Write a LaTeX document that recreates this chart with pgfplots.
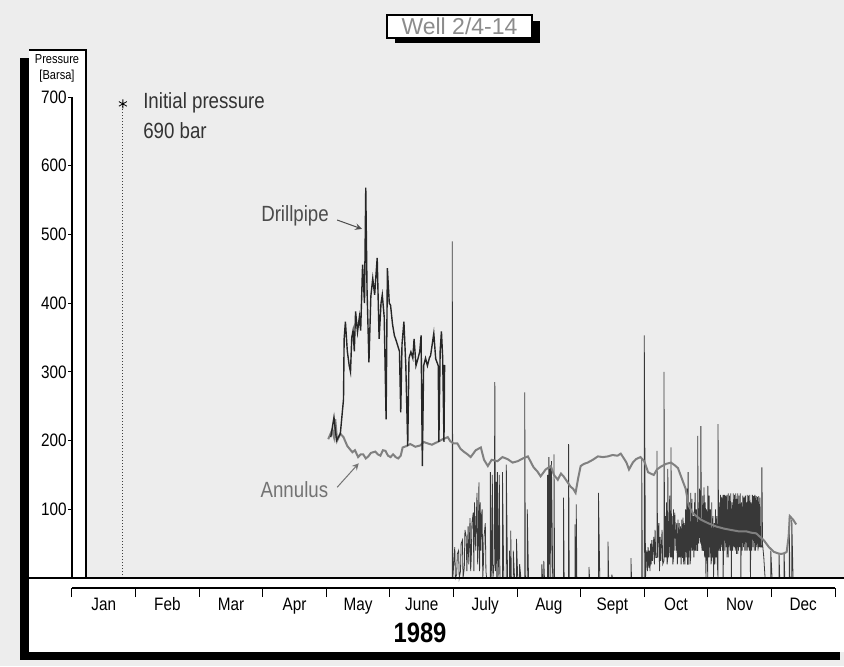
\documentclass[border=0pt]{standalone}
\usepackage{pgfplots}
\pgfplotsset{compat=1.18}
\usepackage{fontspec}
\setmainfont{Liberation Sans}[FakeStretch=0.85]
\newfontfamily\titlefont{Liberation Sans}
\begin{document}
\begin{tikzpicture}
% page background (scan tone) and frame panels
\fill[black!7] (-36pt,-44pt) rectangle (386pt,289pt);
\fill[black] (-26pt,-41pt) rectangle (-21.5pt,260pt);
\fill[black] (-26pt,-41pt) rectangle (384pt,-37pt);
\fill[white] (-21.5pt,-37pt) rectangle (386pt,0pt);
\fill[white] (-21.5pt,0pt) rectangle (7pt,264pt);
\draw[line width=0.6pt] (-21.5pt,264pt) -- (7pt,264pt) -- (7pt,0pt);
% title box with shadow
\fill[black] (161.5pt,267.5pt) rectangle (234pt,278.5pt);
\filldraw[fill=white, draw=black, line width=0.6pt] (157.5pt,270pt) rectangle (230pt,281.5pt);
\node[text=black!45, font=\titlefont\fontsize{11.5}{13}\selectfont] at (193.75pt,275.75pt) {Well 2/4-14};
% y label
\node[font=\fontsize{6.5}{8}\selectfont, align=center] at (-7.5pt,255pt) {Pressure\\{[Barsa]}};

\begin{axis}[
  at={(0pt,0pt)}, anchor=south west, scale only axis,
  width=381.5pt, height=240.5pt,
  xmin=0, xmax=12, ymin=0, ymax=700,
  axis x line=none, axis y line*=left,
  y axis line style={-, line width=0.7pt},
  ytick={100,200,...,700},
  tick align=outside, major tick length=2pt,
  tick style={black, line width=0.5pt},
  /pgf/number format/assume math mode=true,
  yticklabel style={font=\fontsize{9}{10}\selectfont, inner sep=0.5pt},
  clip=false,
]
% initial pressure
\addplot[black!75, line width=0.5pt, densely dotted] coordinates {(0.80,0) (0.80,690)};
\addplot[only marks, mark=asterisk, mark size=2.3pt, black] coordinates {(0.80,690)};
% drillpipe July-December
\addplot[black!78, line width=0.4pt] coordinates {
(5.97,0) (5.98,0) (5.98,490) (5.99,0)
(6.01,30) (6.02,45) (6.03,0) (6.05,5) (6.06,35) (6.08,40) (6.09,0) (6.11,10) (6.12,50) (6.14,55)
(6.15,0) (6.17,15) (6.18,70) (6.20,60) (6.21,10) (6.23,75) (6.24,20) (6.26,87) (6.27,10)
(6.28,30) (6.29,80) (6.31,95) (6.32,10) (6.33,110) (6.35,40) (6.36,90) (6.37,124) (6.38,20)
(6.39,50) (6.40,139) (6.41,10) (6.42,110) (6.43,40) (6.44,90) (6.45,100) (6.46,0) (6.47,20)
(6.48,60) (6.50,80) (6.51,10) (6.52,0)
(6.58,0) (6.58,154) (6.59,0) (6.60,20) (6.61,150) (6.62,0) (6.64,20) (6.65,285) (6.66,10)
(6.67,140) (6.68,0) (6.69,154) (6.70,0) (6.71,30) (6.72,150) (6.73,0) (6.74,0) (6.77,0)
(6.77,154) (6.79,0) (6.83,0) (6.83,165) (6.85,0) (6.88,0) (6.88,40) (6.89,0) (6.90,0)
(6.90,69) (6.91,0) (6.94,0) (6.94,40) (6.96,0) (6.99,0) (6.99,57) (7.01,0) (7.04,0) (7.04,20)
(7.06,0) (7.12,0) (7.12,270) (7.13,0) (7.16,0) (7.16,100) (7.18,0)
(7.39,0) (7.39,20) (7.40,0) (7.42,0) (7.42,25) (7.43,0) (7.48,0) (7.48,150) (7.49,0)
(7.50,0) (7.50,176) (7.51,20) (7.52,160) (7.53,0) (7.54,170) (7.56,0) (7.58,0) (7.58,180)
(7.59,0) (7.73,0) (7.73,117) (7.74,0) (7.81,0) (7.81,195) (7.82,0) (7.91,0) (7.91,78)
(7.92,0) (7.93,0) (7.93,107) (7.94,0) (8.13,0) (8.13,16) (8.14,0) (8.28,0) (8.28,124)
(8.30,0) (8.43,0) (8.43,53) (8.44,0) (8.49,0) (8.49,5) (8.50,0) (8.79,0) (8.79,29) (8.80,0)
(8.96,0) (8.96,175) (8.97,0) (9.00,0) (9.00,353) (9.02,0)
(9.03,30) (9.04,40) (9.05,10) (9.06,45) (9.07,15) (9.08,40) (9.09,10) (9.10,50) (9.11,20)
(9.12,55) (9.13,25) (9.15,60) (9.16,20) (9.17,70) (9.18,30)
(9.20,30) (9.20,185) (9.21,30) (9.22,70) (9.23,80) (9.24,10) (9.25,60) (9.26,25) (9.28,70)
(9.29,20) (9.31,25) (9.31,300) (9.32,30) (9.33,90) (9.34,30) (9.35,110) (9.36,20) (9.37,30)
(9.37,159) (9.38,30) (9.39,40) (9.40,120) (9.41,30) (9.42,40) (9.42,190) (9.43,30) (9.44,90)
(9.45,20) (9.46,30) (9.46,100) (9.47,40) (9.48,95) (9.50,40) (9.51,80) (9.52,20) (9.53,40)
(9.53,85) (9.54,30) (9.55,80) (9.56,30) (9.57,75) (9.58,20) (9.59,85) (9.60,30) (9.61,30)
(9.61,88) (9.62,20) (9.63,80) (9.64,20) (9.65,100) (9.66,30) (9.67,130) (9.68,20) (9.69,20)
(9.69,154) (9.70,30) (9.71,110) (9.72,20) (9.73,30) (9.73,124) (9.74,40) (9.75,115) (9.76,40)
(9.77,90) (9.78,30) (9.79,110) (9.80,40) (9.80,124) (9.81,40) (9.82,100) (9.83,40)
(9.84,40) (9.84,207) (9.85,50) (9.86,60) (9.87,130) (9.88,50) (9.89,60) (9.89,221) (9.90,50)
(9.91,40) (9.92,120) (9.93,40) (9.94,40) (9.94,132) (9.95,30) (9.96,110) (9.97,0)
(9.98,100) (9.99,30) (10.00,0) (10.00,134) (10.01,30) (10.02,120) (10.03,30) (10.04,100)
(10.05,20) (10.06,30) (10.06,110) (10.07,30) (10.08,90) (10.09,0) (10.10,80) (10.11,20)
(10.12,100) (10.13,30) (10.14,90) (10.15,20) (10.16,0) (10.16,224) (10.17,40)
(10.18,110) (10.19,40) (10.20,40) (10.20,121) (10.21,45) (10.22,118) (10.23,40) (10.24,121)
(10.24,0) (10.25,50) (10.26,121) (10.27,40) (10.28,120) (10.29,45) (10.30,121) (10.30,30)
(10.31,100) (10.32,30) (10.32,123) (10.33,45) (10.34,120) (10.35,40) (10.36,123) (10.37,0)
(10.38,110) (10.39,40) (10.40,123) (10.41,45) (10.42,121) (10.43,40) (10.44,123) (10.45,35)
(10.46,115) (10.47,35) (10.47,123) (10.48,40) (10.49,120) (10.50,45) (10.51,123) (10.52,0)
(10.53,110) (10.54,40) (10.55,120) (10.56,45) (10.57,118) (10.58,40) (10.59,120) (10.60,40)
(10.61,110) (10.62,40) (10.62,121) (10.63,45) (10.64,120) (10.65,40) (10.66,121) (10.67,0)
(10.68,110) (10.69,40) (10.70,121) (10.71,45) (10.72,119) (10.73,40) (10.74,121) (10.75,40)
(10.76,119) (10.77,45) (10.78,118) (10.79,40) (10.80,119) (10.81,45) (10.82,117) (10.83,45)
(10.85,45) (10.85,161) (10.86,50) (10.88,30) (10.90,0)
(10.99,0) (10.99,40) (11.01,0) (11.12,0) (11.12,35) (11.13,0) (11.20,0) (11.20,35)
(11.21,0) (11.28,0) (11.28,90) (11.29,0) (11.32,0) (11.32,85) (11.34,0)
};
% annulus
\addplot[black!50, line width=1pt] coordinates {
(4.03,202) (4.09,215) (4.12,205) (4.14,231) (4.17,200) (4.22,210) (4.27,205)
(4.33,192) (4.41,183) (4.45,186) (4.50,176) (4.54,180) (4.58,180) (4.62,174) (4.66,177)
(4.70,182) (4.77,184) (4.81,180) (4.85,178) (4.89,186) (4.93,185) (4.97,178) (5.01,176)
(5.05,180) (5.09,176) (5.13,174) (5.17,178) (5.20,190) (5.26,192) (5.32,195) (5.40,191)
(5.48,193) (5.53,198) (5.59,196) (5.66,194) (5.75,198) (5.83,202) (5.91,205) (5.95,199)
(6.00,196) (6.06,196) (6.11,188) (6.16,184) (6.22,180) (6.27,176) (6.35,186) (6.43,190)
(6.48,172) (6.54,163) (6.60,172) (6.69,170) (6.77,176) (6.85,173) (6.93,168) (7.01,170)
(7.09,174) (7.17,177) (7.22,168) (7.26,161) (7.32,155) (7.37,148) (7.45,158) (7.53,163)
(7.58,150) (7.64,143) (7.69,152) (7.73,148) (7.79,140) (7.84,133) (7.88,130) (7.92,124)
(7.96,145) (8.00,163) (8.05,166) (8.11,168) (8.19,172) (8.27,177) (8.35,176) (8.43,177)
(8.50,179) (8.58,178) (8.63,181) (8.68,174) (8.72,168) (8.76,158) (8.82,168) (8.87,173)
(8.94,176) (9.00,170) (9.06,154) (9.10,152) (9.15,150) (9.20,158) (9.26,162) (9.34,166)
(9.42,168) (9.48,164) (9.53,160) (9.59,145) (9.65,130) (9.70,105) (9.76,95) (9.82,90)
(9.89,85) (10.00,80) (10.13,75) (10.25,72) (10.36,70) (10.48,68) (10.60,68) (10.68,66)
(10.76,65) (10.82,60) (10.88,55) (10.96,45) (11.04,38) (11.10,36) (11.15,35) (11.20,36)
(11.24,38) (11.27,60) (11.29,90) (11.34,85) (11.39,78)
};
% drillpipe May-June
\addplot[black!85, line width=0.7pt] coordinates {
(4.07,205) (4.12,234) (4.16,200) (4.22,210) (4.27,260) (4.28,348) (4.30,373) (4.33,330)
(4.36,309) (4.38,300) (4.40,350) (4.42,360) (4.44,330) (4.46,388) (4.49,358) (4.52,380) (4.54,360) (4.57,456)
(4.60,400) (4.62,568) (4.64,420) (4.67,314) (4.70,410) (4.73,436) (4.76,412) (4.78,440) (4.80,466)
(4.83,348) (4.86,400) (4.88,412) (4.91,380) (4.94,231) (4.96,451) (4.99,400) (5.01,397)
(5.04,370) (5.07,353) (5.10,345) (5.12,339) (5.15,330) (5.17,241) (5.19,340) (5.22,373)
(5.25,309) (5.28,192) (5.30,320) (5.33,329) (5.36,320) (5.38,348) (5.41,309) (5.44,319)
(5.47,330) (5.49,353) (5.51,163) (5.53,309) (5.56,320) (5.59,309) (5.62,320) (5.64,324)
(5.69,356) (5.72,319) (5.76,309) (5.77,198) (5.79,330) (5.81,359) (5.83,320) (5.85,198)
(5.86,310)
};
% annotations
\node[anchor=west, font=\fontsize{11}{13}\selectfont, text=black!80] at (axis cs:1.01,691) {Initial pressure};
\node[anchor=west, font=\fontsize{11}{13}\selectfont, text=black!80] at (axis cs:1.01,651) {690 bar};
\node[anchor=east, font=\fontsize{11}{13}\selectfont, text=black!70] at (axis cs:4.15,527) {Drillpipe};
\draw[-stealth, black!70, line width=0.5pt] (axis cs:4.17,521) -- (axis cs:4.56,508);
\node[anchor=east, font=\fontsize{11}{13}\selectfont, text=black!55] at (axis cs:4.14,128) {Annulus};
\draw[-stealth, black!55, line width=0.5pt] (axis cs:4.17,132) -- (axis cs:4.51,167);
\end{axis}

% month axis
\begin{axis}[
  at={(0pt,-5pt)}, anchor=south west, scale only axis,
  width=381.5pt, height=2pt,
  xmin=0, xmax=12, ymin=0, ymax=1,
  axis y line=none, axis x line*=bottom,
  x axis line style={-, line width=0.7pt},
  xtick={0,1,...,12},
  xticklabels={Jan,Feb,Mar,Apr,May,June,July,Aug,Sept,Oct,Nov,Dec},
  x tick label as interval,
  tick align=outside, major tick length=4.5pt,
  tick style={black, line width=0.5pt},
  xticklabel style={font=\fontsize{9}{10}\selectfont, text height=1.6ex, text depth=0.4ex, yshift=5pt},
]
\addplot[draw=none] coordinates {(0,0) (12,1)};
\end{axis}

\node[font=\bfseries\fontsize{14}{16}\selectfont] at (174pt,-27.5pt) {1989};
\draw[line width=1pt] (-21.5pt,0pt) -- (386pt,0pt);

\pgfresetboundingbox
\path (-36pt,-44pt) rectangle (386pt,289pt);
\end{tikzpicture}
\end{document}
